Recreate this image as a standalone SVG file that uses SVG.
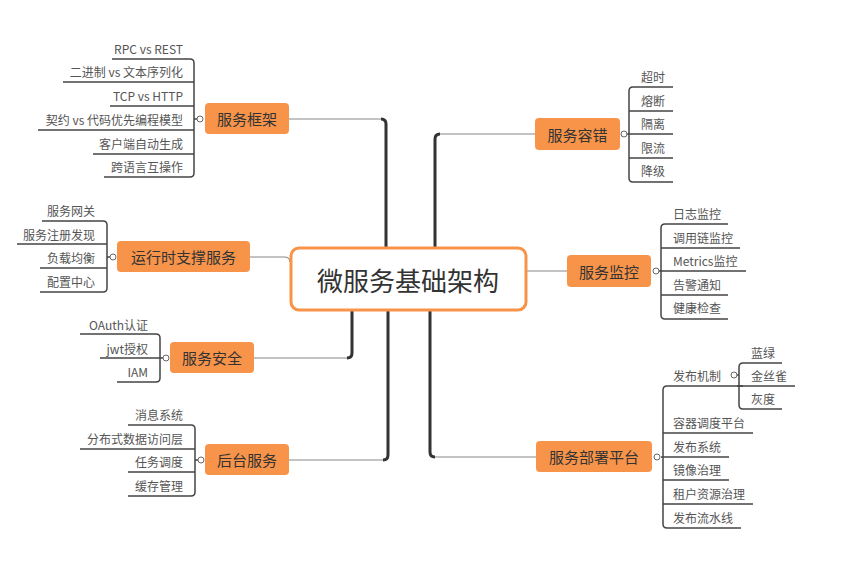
<svg xmlns="http://www.w3.org/2000/svg" width="863" height="568" viewBox="0 0 863 568">
<style>
.box{fill:#F7944A;}
.bt{font-family:"Noto Sans CJK SC","Liberation Sans",sans-serif;font-size:15px;fill:#333;text-anchor:middle;dominant-baseline:central;}
.lt{font-family:"Noto Sans CJK SC","Liberation Sans",sans-serif;font-size:12px;fill:#555;dominant-baseline:central;}
.r{text-anchor:end;}
.ul{stroke:#444;stroke-width:1.5;fill:none;}
.trunk{stroke:#333;stroke-width:3;fill:none;}
.thin{stroke:#888;stroke-width:1.2;fill:none;}
.dot{fill:#fff;stroke:#666;stroke-width:1;}
</style>
<rect width="863" height="568" fill="#fff"/>
<g id="connectors">
<path class="trunk" d="M386 248 V124 Q386 119 381 119"/>
<path class="thin" d="M381 119 H289"/>
<path class="thin" d="M250 257 H284 Q290 257 290 262"/>
<path class="trunk" d="M352 310 V353 Q352 358 347 358"/>
<path class="thin" d="M347 358 H254"/>
<path class="trunk" d="M388 310 V455 Q388 460 383 460"/>
<path class="thin" d="M383 460 H289"/>
<path class="trunk" d="M435 248 V139 Q435 134 440 134"/>
<path class="thin" d="M440 134 H535"/>
<path class="thin" d="M527 271 H567"/>
<path class="trunk" d="M430 310 V452 Q430 457 435 457"/>
<path class="thin" d="M435 457 H536"/>
</g>
<g id="center">
<rect x="291" y="248" width="235" height="62" rx="8" fill="#fff" stroke="#F7944A" stroke-width="3"/>
<text class="bt" x="408" y="279" style="font-size:26px">微服务基础架构</text>
</g>
<g id="n-kuangjia">
<rect class="box" x="205" y="103" width="84" height="31" rx="4"/>
<text class="bt" x="247" y="118.5">服务框架</text>
<path class="ul" d="M112 59 H190 Q194 59 194 63 V173 Q194 177 190 177 H104 M63 82 H194 M110 106 H194 M38 130 H194 M93 154 H194 M194 119 H197"/>
<circle class="dot" cx="200" cy="119" r="3"/>
<text class="lt r" x="183" y="48">RPC vs REST</text>
<text class="lt r" x="183" y="71">二进制 vs 文本序列化</text>
<text class="lt r" x="183" y="95">TCP vs HTTP</text>
<text class="lt r" x="183" y="119">契约 vs 代码优先编程模型</text>
<text class="lt r" x="183" y="143">客户端自动生成</text>
<text class="lt r" x="183" y="166">跨语言互操作</text>
</g>
<g id="n-yunxing">
<rect class="box" x="117" y="241" width="133" height="31" rx="4"/>
<text class="bt" x="183.5" y="256.5">运行时支撑服务</text>
<path class="ul" d="M42 221 H103 Q107 221 107 225 V288 Q107 292 103 292 H40 M17 244 H107 M40 268 H107 M107 257 H110"/>
<circle class="dot" cx="113" cy="257" r="3"/>
<text class="lt r" x="95" y="210">服务网关</text>
<text class="lt r" x="95" y="234">服务注册发现</text>
<text class="lt r" x="95" y="257">负载均衡</text>
<text class="lt r" x="95" y="281">配置中心</text>
</g>
<g id="n-anquan">
<rect class="box" x="170" y="342" width="84" height="31" rx="4"/>
<text class="bt" x="212" y="357.5">服务安全</text>
<path class="ul" d="M80 334 H156 Q160 334 160 338 V378 Q160 382 156 382 H117 M100 358 H163"/>
<circle class="dot" cx="166" cy="358" r="3"/>
<text class="lt r" x="148" y="324">OAuth认证</text>
<text class="lt r" x="148" y="348">jwt授权</text>
<text class="lt r" x="148" y="371">IAM</text>
</g>
<g id="n-houtai">
<rect class="box" x="205" y="444" width="84" height="31" rx="4"/>
<text class="bt" x="247" y="459.5">后台服务</text>
<path class="ul" d="M128 425 H191 Q195 425 195 429 V492 Q195 496 191 496 H128 M80 449 H195 M128 472 H195 M195 460 H198"/>
<circle class="dot" cx="201" cy="460" r="3"/>
<text class="lt r" x="183" y="414">消息系统</text>
<text class="lt r" x="183" y="438">分布式数据访问层</text>
<text class="lt r" x="183" y="461">任务调度</text>
<text class="lt r" x="183" y="485">缓存管理</text>
</g>
<g id="n-rongcuo">
<rect class="box" x="535" y="118" width="85" height="32" rx="4"/>
<text class="bt" x="577.5" y="134">服务容错</text>
<path class="ul" d="M673 87 H633 Q629 87 629 91 V178 Q629 182 633 182 H673 M629 111 H673 M627 134 H673 M629 158 H673"/>
<circle class="dot" cx="624" cy="134" r="3"/>
<text class="lt" x="641" y="76">超时</text>
<text class="lt" x="641" y="100">熔断</text>
<text class="lt" x="641" y="123">隔离</text>
<text class="lt" x="641" y="147">限流</text>
<text class="lt" x="641" y="170">降级</text>
</g>
<g id="n-jiankong">
<rect class="box" x="567" y="255" width="84" height="32" rx="4"/>
<text class="bt" x="609" y="271">服务监控</text>
<path class="ul" d="M728 224 H665 Q661 224 661 228 V315 Q661 319 665 319 H728 M661 248 H740 M659 271 H746 M661 295 H728"/>
<circle class="dot" cx="656" cy="271" r="3"/>
<text class="lt" x="673" y="213">日志监控</text>
<text class="lt" x="673" y="237">调用链监控</text>
<text class="lt" x="673" y="260">Metrics监控</text>
<text class="lt" x="673" y="284">告警通知</text>
<text class="lt" x="673" y="307">健康检查</text>
</g>
<g id="n-bushu">
<rect class="box" x="536" y="441" width="116" height="31" rx="4"/>
<text class="bt" x="594" y="456.5">服务部署平台</text>
<path class="ul" d="M743 386 H667 Q663 386 663 390 V524 Q663 528 667 528 H741 M663 433 H753 M661 457 H729 M663 480 H729 M663 504 H753"/>
<circle class="dot" cx="657" cy="457" r="3"/>
<text class="lt" x="673" y="375">发布机制</text>
<text class="lt" x="673" y="422">容器调度平台</text>
<text class="lt" x="673" y="446">发布系统</text>
<text class="lt" x="673" y="469">镜像治理</text>
<text class="lt" x="673" y="493">租户资源治理</text>
<text class="lt" x="673" y="517">发布流水线</text>
</g>
<g id="n-fabu">
<path class="ul" d="M782 363 H743 Q739 363 739 367 V405 Q739 409 743 409 H782 M737 386 H795 M737 375 H739"/>
<circle class="dot" cx="734" cy="375" r="3"/>
<text class="lt" x="751" y="352">蓝绿</text>
<text class="lt" x="751" y="375">金丝雀</text>
<text class="lt" x="751" y="398">灰度</text>
</g>
</svg>
